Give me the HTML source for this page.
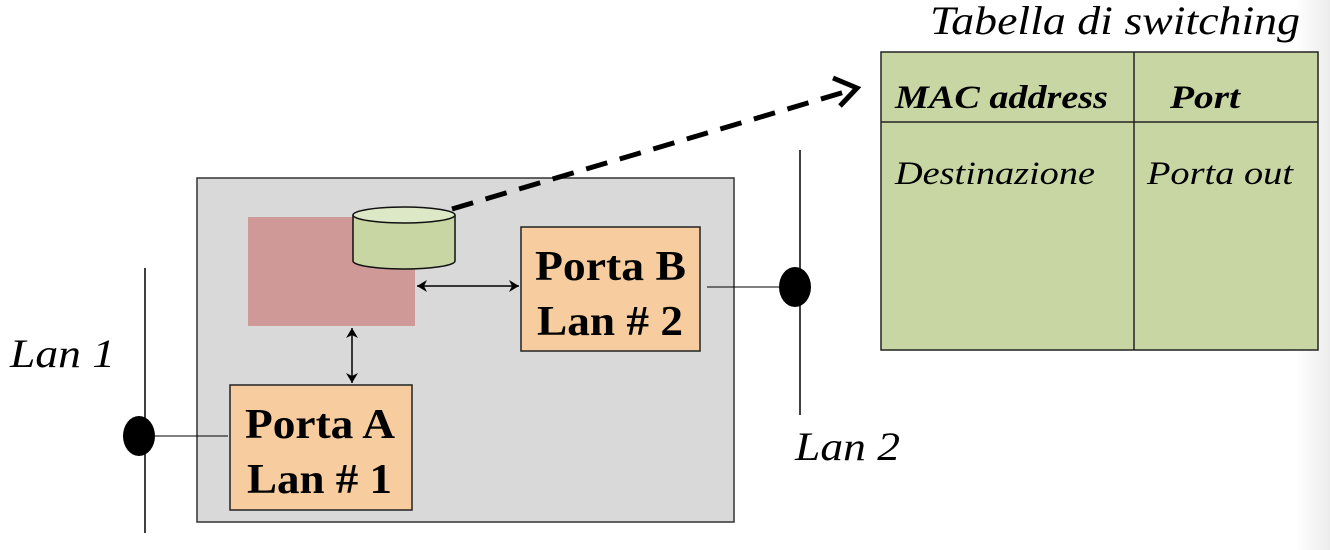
<!DOCTYPE html>
<html><head><style>
html,body{margin:0;padding:0;background:#fff;}
svg{display:block;}
text{font-family:"Liberation Serif",serif;}
</style></head><body>
<svg width="1330" height="550" viewBox="0 0 1330 550" xmlns="http://www.w3.org/2000/svg">
<defs>
<linearGradient id="sh" x1="0" x2="1" y1="0" y2="0">
<stop offset="0" stop-color="#fff"/><stop offset="1" stop-color="#ececec"/>
</linearGradient>
<marker id="ah" markerWidth="12" markerHeight="12" refX="10" refY="6" orient="auto-start-reverse" markerUnits="userSpaceOnUse">
<path d="M0,0 L10,6 L0,12 L3,6 Z" fill="#000"/>
</marker>
</defs>
<rect x="1295" y="0" width="35" height="550" fill="url(#sh)"/>
<rect x="197" y="178" width="537" height="344" fill="#d9d9d9" stroke="#333" stroke-width="1.5"/>
<rect x="248" y="217" width="167" height="109" fill="#cf9997"/>
<path d="M353,215 L353,261 A51,8 0 0 0 455,261 L455,215" fill="#c8d6a4" stroke="#111" stroke-width="1.5"/>
<ellipse cx="404" cy="215" rx="51" ry="8" fill="#dde8c6" stroke="#111" stroke-width="1.5"/>
<line x1="452" y1="209" x2="848" y2="91" stroke="#000" stroke-width="5" stroke-dasharray="22,13"/>
<path d="M833,78 L857,88 L840,106" fill="none" stroke="#000" stroke-width="5"/>
<rect x="521" y="227" width="179" height="124" fill="#f7cd9f" stroke="#222" stroke-width="1.5"/>
<text x="535" y="280" font-size="42" font-weight="bold" textLength="151" lengthAdjust="spacingAndGlyphs">Porta B</text>
<text x="537" y="335" font-size="42" font-weight="bold" textLength="146" lengthAdjust="spacingAndGlyphs">Lan # 2</text>
<rect x="230" y="385" width="182" height="125" fill="#f7cd9f" stroke="#222" stroke-width="1.5"/>
<text x="245" y="438" font-size="42" font-weight="bold" textLength="150" lengthAdjust="spacingAndGlyphs">Porta A</text>
<text x="247" y="493" font-size="42" font-weight="bold" textLength="145" lengthAdjust="spacingAndGlyphs">Lan # 1</text>
<line x1="417" y1="286" x2="519" y2="286" stroke="#000" stroke-width="1.5" marker-start="url(#ah)" marker-end="url(#ah)"/>
<line x1="352" y1="328" x2="352" y2="383" stroke="#000" stroke-width="1.5" marker-start="url(#ah)" marker-end="url(#ah)"/>
<line x1="145" y1="268" x2="145" y2="533" stroke="#000" stroke-width="1.5"/>
<line x1="150" y1="436" x2="228" y2="436" stroke="#000" stroke-width="1"/>
<ellipse cx="139" cy="436" rx="16" ry="20" fill="#000"/>
<text x="10" y="367" font-size="40" font-style="italic" textLength="105" lengthAdjust="spacingAndGlyphs">Lan 1</text>
<line x1="800" y1="150" x2="800" y2="415" stroke="#000" stroke-width="1.5"/>
<line x1="707" y1="287" x2="785" y2="287" stroke="#000" stroke-width="1"/>
<ellipse cx="795" cy="287" rx="16" ry="20" fill="#000"/>
<text x="795" y="460" font-size="40" font-style="italic" textLength="105" lengthAdjust="spacingAndGlyphs">Lan 2</text>
<text x="930" y="34" font-size="40" font-style="italic" textLength="370" lengthAdjust="spacingAndGlyphs">Tabella di switching</text>
<rect x="881" y="52" width="437" height="298" fill="#c8d6a4" stroke="#222" stroke-width="1.5"/>
<line x1="1134" y1="52" x2="1134" y2="350" stroke="#222" stroke-width="1.5"/>
<line x1="881" y1="122" x2="1318" y2="122" stroke="#222" stroke-width="1.5"/>
<text x="895" y="108" font-size="33" font-style="italic" font-weight="bold" textLength="213" lengthAdjust="spacingAndGlyphs">MAC address</text>
<text x="1170" y="108" font-size="33" font-style="italic" font-weight="bold" textLength="70" lengthAdjust="spacingAndGlyphs">Port</text>
<text x="895" y="184" font-size="33" font-style="italic" textLength="200" lengthAdjust="spacingAndGlyphs">Destinazione</text>
<text x="1147" y="184" font-size="33" font-style="italic" textLength="146" lengthAdjust="spacingAndGlyphs">Porta out</text>
</svg>
</body></html>
